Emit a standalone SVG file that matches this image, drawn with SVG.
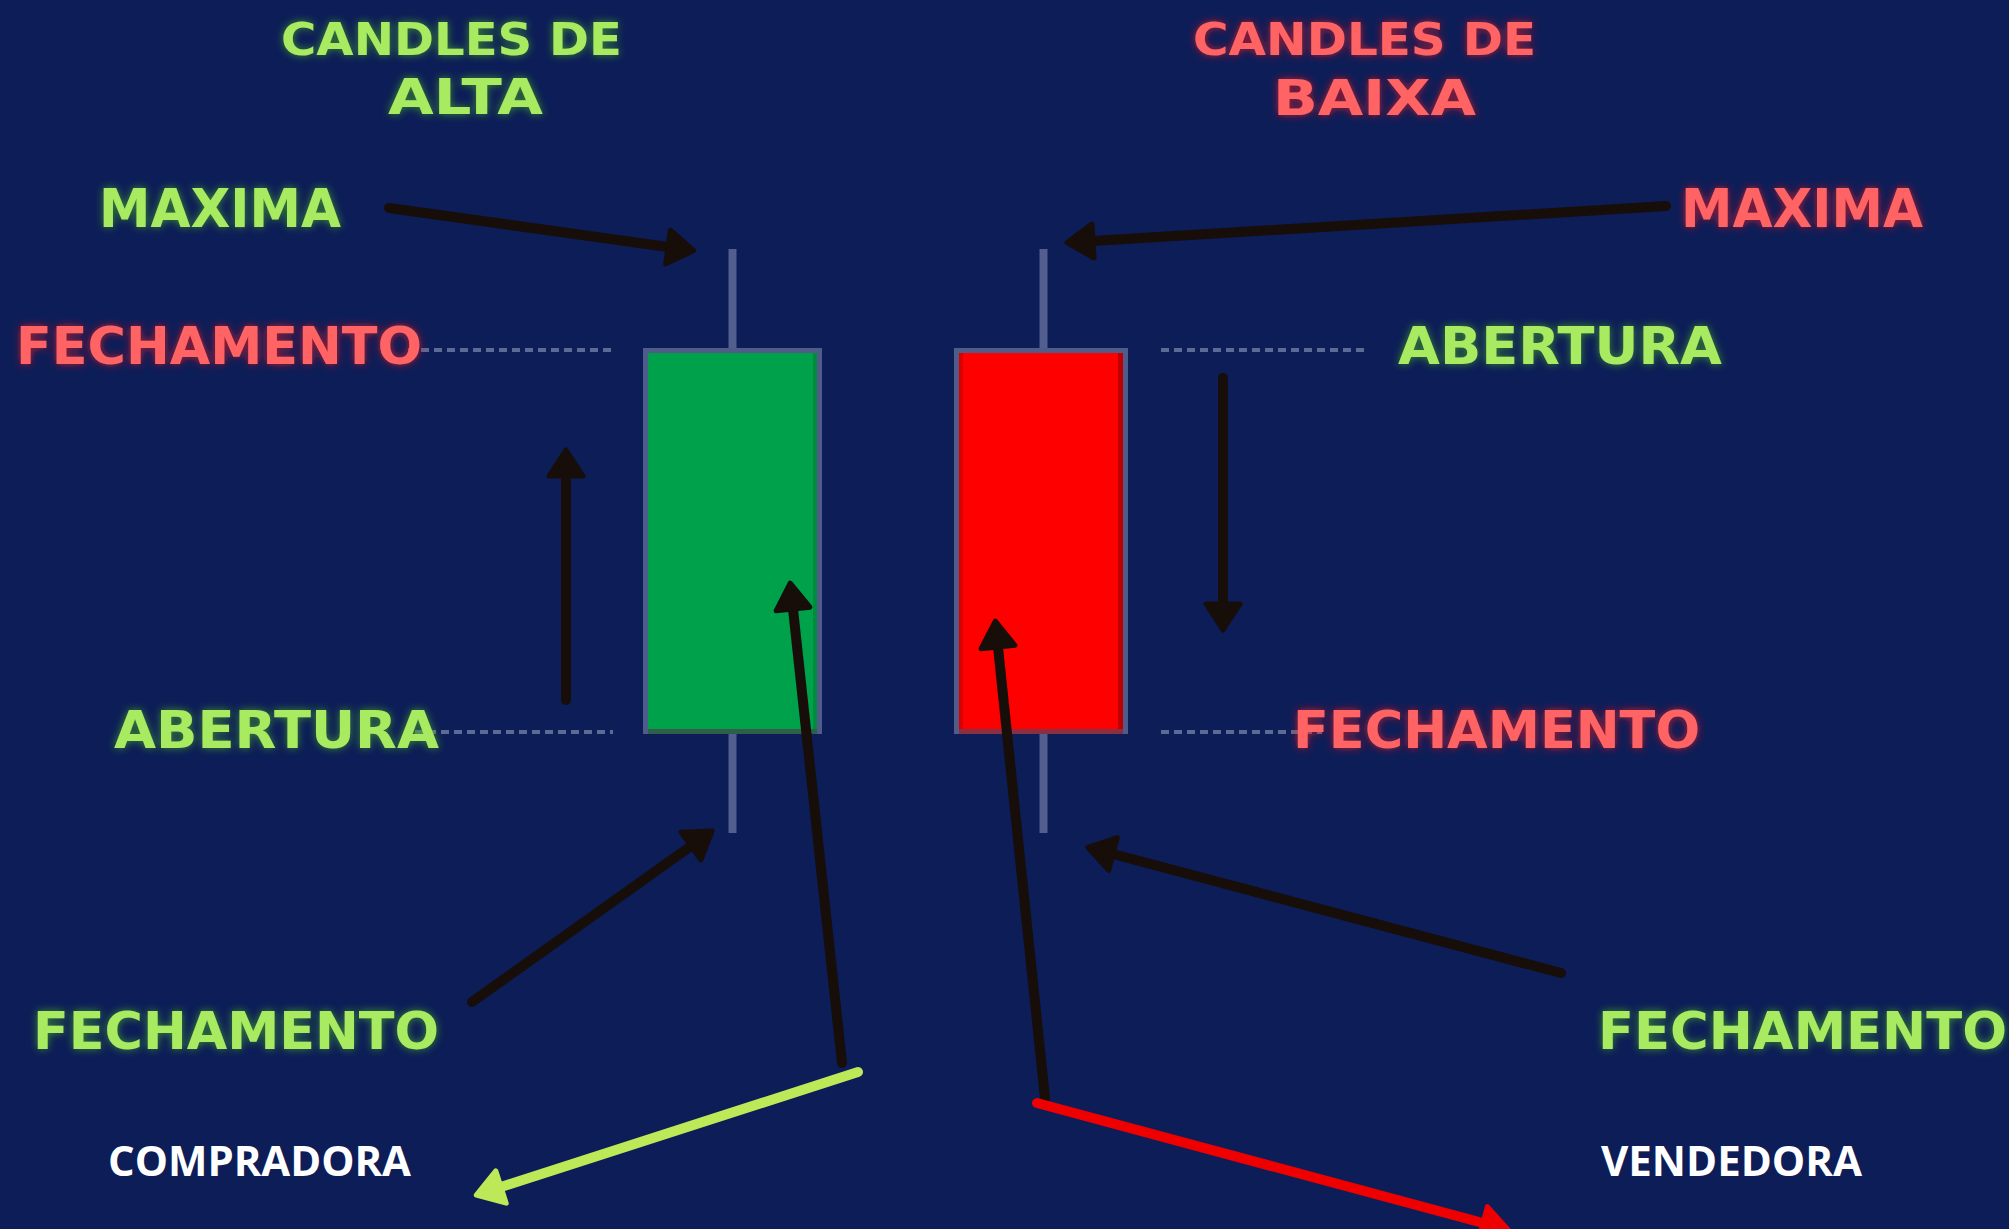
<svg xmlns="http://www.w3.org/2000/svg" width="2009" height="1229" viewBox="0 0 2009 1229">
<style>
.neo{font-family:"DejaVu Sans","Liberation Sans",sans-serif;font-weight:bold;}
.g{fill:#a8ea60;filter:url(#glowG);}
.r{fill:#ff6464;filter:url(#glowR);}
.w{font-family:"Open Sans","Liberation Sans",sans-serif;font-weight:bold;font-size:42px;fill:#ffffff;}
.dash{stroke:#5d6a94;stroke-width:4;stroke-dasharray:8 5;fill:none;}
.wick{stroke:#525e8e;stroke-width:8;}
.arr{fill:none;stroke:#170e0a;stroke-width:10;stroke-linecap:round;marker-end:url(#hd);}
</style>
<defs>
<filter id="glowG" x="-10%" y="-40%" width="120%" height="180%">
<feGaussianBlur in="SourceAlpha" stdDeviation="4" result="b"/>
<feFlood flood-color="#4fb81e" flood-opacity="0.7"/>
<feComposite in2="b" operator="in" result="gl"/>
<feMerge><feMergeNode in="gl"/><feMergeNode in="SourceGraphic"/></feMerge>
</filter>
<filter id="glowR" x="-10%" y="-40%" width="120%" height="180%">
<feGaussianBlur in="SourceAlpha" stdDeviation="4" result="b"/>
<feFlood flood-color="#ff1a1a" flood-opacity="0.7"/>
<feComposite in2="b" operator="in" result="gl"/>
<feMerge><feMergeNode in="gl"/><feMergeNode in="SourceGraphic"/></feMerge>
</filter>
<marker id="hd" markerUnits="userSpaceOnUse" viewBox="-4 -24 36 48" markerWidth="36" markerHeight="48" refX="0" refY="0" orient="auto">
<path d="M0,-17 L26,0 L0,17 Z" fill="#170e0a" stroke="#170e0a" stroke-width="5" stroke-linejoin="round"/>
</marker>
<marker id="hdG" markerUnits="userSpaceOnUse" viewBox="-4 -24 36 48" markerWidth="36" markerHeight="48" refX="0" refY="0" orient="auto">
<path d="M0,-17 L26,0 L0,17 Z" fill="#bde858" stroke="#bde858" stroke-width="5" stroke-linejoin="round"/>
</marker>
<marker id="hdR" markerUnits="userSpaceOnUse" viewBox="-4 -24 36 48" markerWidth="36" markerHeight="48" refX="0" refY="0" orient="auto">
<path d="M0,-17 L26,0 L0,17 Z" fill="#ee0000" stroke="#ee0000" stroke-width="5" stroke-linejoin="round"/>
</marker>
</defs>
<rect x="0" y="0" width="2009" height="1229" fill="#0c1d58"/>

<g id="guides">
<line class="dash" x1="408" y1="350" x2="613" y2="350"/>
<line class="dash" x1="415" y1="732" x2="613" y2="732"/>
<line class="dash" x1="1161" y1="350" x2="1367" y2="350"/>
<line class="dash" x1="1161" y1="732" x2="1322" y2="732"/>
</g>

<g id="candle-alta">
<line class="wick" x1="732.5" y1="249" x2="732.5" y2="348"/>
<line class="wick" x1="732.5" y1="734" x2="732.5" y2="833"/>
<rect x="643" y="348" width="179" height="386" fill="#4f5b88"/>
<rect x="648" y="353" width="169" height="376" fill="#00a14b"/>
<rect x="813" y="353" width="4" height="376" fill="#008c3e"/>
<rect x="648" y="729" width="169" height="5" fill="#2f5e4a"/>
</g>

<g id="candle-baixa">
<line class="wick" x1="1043.5" y1="249" x2="1043.5" y2="348"/>
<line class="wick" x1="1043.5" y1="734" x2="1043.5" y2="833"/>
<rect x="954" y="348" width="174" height="386" fill="#4f5b88"/>
<rect x="959" y="353" width="164" height="376" fill="#ff0000"/>
<rect x="959" y="353" width="4" height="376" fill="#d80000"/>
<rect x="1118" y="353" width="5" height="376" fill="#c00000"/>
<rect x="959" y="729" width="164" height="5" fill="#8a2f42"/>
</g>

<g id="connectors">
<line class="arr" x1="389" y1="208" x2="668" y2="247"/>
<line class="arr" x1="1666" y1="206" x2="1093" y2="241"/>
<line class="arr" x1="566" y1="700" x2="566" y2="476"/>
<line class="arr" x1="1223" y1="378" x2="1223" y2="604"/>
<line class="arr" x1="472" y1="1002" x2="691" y2="846"/>
<line class="arr" x1="842" y1="1063" x2="793" y2="609"/>
<line class="arr" x1="1045" y1="1098" x2="998" y2="647"/>
<line class="arr" x1="1561" y1="973" x2="1113" y2="854"/>
<line x1="858" y1="1072" x2="501" y2="1187" stroke="#bde858" stroke-width="10" stroke-linecap="round" marker-end="url(#hdG)"/>
<line x1="1037" y1="1103" x2="1483" y2="1223" stroke="#ee0000" stroke-width="10" stroke-linecap="round" marker-end="url(#hdR)"/>
</g>

<g id="title-alta" class="neo">
<text class="g" x="281" y="55" font-size="44" textLength="341" lengthAdjust="spacingAndGlyphs">CANDLES DE</text>
<text class="g" x="388" y="114" font-size="50" textLength="155" lengthAdjust="spacingAndGlyphs">ALTA</text>
</g>
<g id="title-baixa" class="neo">
<text class="r" x="1193" y="55" font-size="44" textLength="343" lengthAdjust="spacingAndGlyphs">CANDLES DE</text>
<text class="r" x="1273" y="115" font-size="50" textLength="203" lengthAdjust="spacingAndGlyphs">BAIXA</text>
</g>
<g id="label-maxima-alta" class="neo"><text class="g" x="99" y="227" font-size="53" textLength="242" lengthAdjust="spacingAndGlyphs">MAXIMA</text></g>
<g id="label-maxima-baixa" class="neo"><text class="r" x="1681" y="227" font-size="53" textLength="242" lengthAdjust="spacingAndGlyphs">MAXIMA</text></g>
<g id="label-fechamento-alta" class="neo"><text class="r" x="16" y="364" font-size="52" textLength="406" lengthAdjust="spacingAndGlyphs">FECHAMENTO</text></g>
<g id="label-abertura-baixa" class="neo"><text class="g" x="1398" y="364" font-size="52" textLength="324" lengthAdjust="spacingAndGlyphs">ABERTURA</text></g>
<g id="label-abertura-alta" class="neo"><text class="g" x="114" y="748" font-size="52" textLength="325" lengthAdjust="spacingAndGlyphs">ABERTURA</text></g>
<g id="label-fechamento-baixa" class="neo"><text class="r" x="1293" y="748" font-size="52" textLength="407" lengthAdjust="spacingAndGlyphs">FECHAMENTO</text></g>
<g id="label-fechamento-min-alta" class="neo"><text class="g" x="33" y="1049" font-size="52" textLength="406" lengthAdjust="spacingAndGlyphs">FECHAMENTO</text></g>
<g id="label-fechamento-min-baixa" class="neo"><text class="g" x="1598" y="1049" font-size="52" textLength="409" lengthAdjust="spacingAndGlyphs">FECHAMENTO</text></g>
<g id="label-compradora"><text class="w" x="108" y="1176" textLength="303" lengthAdjust="spacingAndGlyphs">COMPRADORA</text></g>
<g id="label-vendedora"><text class="w" x="1601" y="1176" textLength="261" lengthAdjust="spacingAndGlyphs">VENDEDORA</text></g>
</svg>
